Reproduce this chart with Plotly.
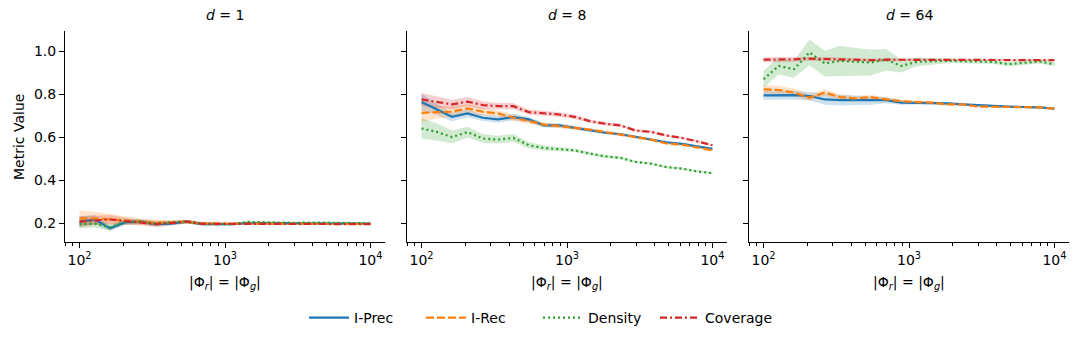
import plotly.graph_objects as go
from plotly.subplots import make_subplots

# sample sizes |Phi_r| = |Phi_g|
n_samples = [100, 127, 162, 207, 264, 336, 428, 546, 695, 886,
             1129, 1438, 1833, 2336, 2976, 3793, 4833, 6158, 7847, 10000]

# d = 1
prec_d1 = [0.206, 0.217, 0.175, 0.204, 0.206, 0.195, 0.197, 0.206, 0.195, 0.195,
           0.195, 0.200, 0.200, 0.199, 0.198, 0.199, 0.200, 0.199, 0.198, 0.197]
rec_d1 = [0.222, 0.222, 0.217, 0.213, 0.206, 0.201, 0.203, 0.205, 0.198, 0.198,
          0.197, 0.198, 0.197, 0.197, 0.196, 0.197, 0.196, 0.197, 0.196, 0.196]
dens_d1 = [0.195, 0.197, 0.180, 0.205, 0.206, 0.197, 0.203, 0.206, 0.196, 0.194,
           0.195, 0.205, 0.203, 0.202, 0.201, 0.202, 0.200, 0.201, 0.200, 0.198]
cov_d1 = [0.206, 0.213, 0.217, 0.209, 0.202, 0.195, 0.200, 0.207, 0.196, 0.196,
          0.193, 0.195, 0.195, 0.194, 0.195, 0.195, 0.196, 0.195, 0.195, 0.195]
prec_d1_err = [0.025, 0.020, 0.012, 0.012, 0.010, 0.010, 0.008, 0.008, 0.006, 0.006,
               0.005, 0.005, 0.004, 0.004, 0.004, 0.003, 0.003, 0.003, 0.003, 0.003]
rec_d1_err = [0.035, 0.030, 0.025, 0.020, 0.015, 0.015, 0.010, 0.010, 0.008, 0.008,
              0.006, 0.005, 0.005, 0.004, 0.004, 0.004, 0.003, 0.003, 0.003, 0.003]
dens_d1_err = [0.020, 0.018, 0.015, 0.012, 0.010, 0.010, 0.008, 0.008, 0.006, 0.006,
               0.005, 0.005, 0.004, 0.004, 0.004, 0.003, 0.003, 0.003, 0.003, 0.003]
cov_d1_err = [0.025, 0.022, 0.020, 0.015, 0.012, 0.015, 0.010, 0.008, 0.007, 0.006,
              0.005, 0.005, 0.004, 0.004, 0.004, 0.003, 0.003, 0.003, 0.003, 0.003]

# d = 8
prec_d8 = [0.763, 0.729, 0.694, 0.710, 0.690, 0.682, 0.693, 0.682, 0.654, 0.654,
           0.643, 0.632, 0.620, 0.613, 0.600, 0.588, 0.576, 0.568, 0.557, 0.545]
rec_d8 = [0.713, 0.716, 0.718, 0.733, 0.718, 0.710, 0.690, 0.674, 0.658, 0.651,
          0.643, 0.635, 0.623, 0.612, 0.600, 0.588, 0.570, 0.565, 0.552, 0.538]
dens_d8 = [0.640, 0.624, 0.600, 0.623, 0.593, 0.588, 0.596, 0.562, 0.549, 0.545,
           0.538, 0.523, 0.510, 0.503, 0.484, 0.476, 0.460, 0.453, 0.440, 0.432]
cov_d8 = [0.775, 0.763, 0.752, 0.765, 0.749, 0.744, 0.744, 0.716, 0.710, 0.705,
          0.694, 0.674, 0.662, 0.654, 0.630, 0.624, 0.607, 0.596, 0.580, 0.562]
prec_d8_err = [0.040, 0.025, 0.020, 0.018, 0.015, 0.015, 0.015, 0.012, 0.010, 0.010,
               0.008, 0.008, 0.007, 0.007, 0.006, 0.006, 0.005, 0.005, 0.005, 0.005]
rec_d8_err = [0.045, 0.030, 0.025, 0.020, 0.018, 0.015, 0.015, 0.012, 0.010, 0.010,
              0.008, 0.008, 0.007, 0.007, 0.006, 0.006, 0.005, 0.005, 0.005, 0.005]
dens_d8_err = [0.047, 0.040, 0.030, 0.025, 0.020, 0.018, 0.018, 0.015, 0.012, 0.010,
               0.008, 0.008, 0.007, 0.006, 0.006, 0.005, 0.005, 0.005, 0.005, 0.005]
cov_d8_err = [0.030, 0.025, 0.022, 0.022, 0.018, 0.015, 0.015, 0.012, 0.012, 0.010,
              0.010, 0.008, 0.008, 0.007, 0.007, 0.006, 0.006, 0.005, 0.005, 0.005]

# d = 64
prec_d64 = [0.794, 0.794, 0.795, 0.791, 0.775, 0.772, 0.772, 0.770, 0.772, 0.760,
            0.760, 0.760, 0.757, 0.752, 0.747, 0.745, 0.742, 0.741, 0.738, 0.732]
rec_d64 = [0.822, 0.819, 0.807, 0.783, 0.807, 0.786, 0.779, 0.786, 0.775, 0.767,
           0.763, 0.760, 0.752, 0.752, 0.742, 0.741, 0.741, 0.738, 0.738, 0.732]
dens_d64 = [0.869, 0.931, 0.916, 0.994, 0.942, 0.955, 0.950, 0.947, 0.960, 0.931,
            0.950, 0.952, 0.955, 0.953, 0.950, 0.950, 0.939, 0.947, 0.952, 0.939]
cov_d64 = [0.960, 0.960, 0.962, 0.965, 0.963, 0.962, 0.960, 0.958, 0.960, 0.960,
           0.960, 0.960, 0.960, 0.960, 0.960, 0.959, 0.958, 0.959, 0.959, 0.958]
prec_d64_err = [0.020, 0.020, 0.020, 0.020, 0.025, 0.025, 0.022, 0.020, 0.015, 0.010,
                0.008, 0.007, 0.006, 0.005, 0.005, 0.004, 0.004, 0.004, 0.004, 0.004]
rec_d64_err = [0.020, 0.020, 0.018, 0.015, 0.015, 0.012, 0.012, 0.010, 0.010, 0.008,
               0.007, 0.006, 0.006, 0.005, 0.005, 0.004, 0.004, 0.004, 0.004, 0.004]
dens_d64_err = [0.040, 0.040, 0.040, 0.060, 0.060, 0.070, 0.065, 0.060, 0.050, 0.030,
                0.020, 0.015, 0.012, 0.010, 0.010, 0.010, 0.010, 0.010, 0.010, 0.010]
cov_d64_err = [0.012, 0.012, 0.010, 0.010, 0.010, 0.008, 0.008, 0.007, 0.007, 0.006,
               0.006, 0.005, 0.005, 0.005, 0.005, 0.004, 0.004, 0.004, 0.004, 0.004]

panel_titles = ["<i>d</i> = 1", "<i>d</i> = 8", "<i>d</i> = 64"]
metric_names = ["I-Prec", "I-Rec", "Density", "Coverage"]
colors = ["#1f77b4", "#ff7f0e", "#2ca02c", "#d62728"]
fills = ["rgba(31,119,180,0.22)", "rgba(255,127,14,0.22)",
         "rgba(44,160,44,0.22)", "rgba(214,39,40,0.22)"]
dashes = ["solid", "8px,3px", "2px,3px", "7px,3px,2px,3px"]

panels = [
    [(prec_d1, prec_d1_err), (rec_d1, rec_d1_err), (dens_d1, dens_d1_err), (cov_d1, cov_d1_err)],
    [(prec_d8, prec_d8_err), (rec_d8, rec_d8_err), (dens_d8, dens_d8_err), (cov_d8, cov_d8_err)],
    [(prec_d64, prec_d64_err), (rec_d64, rec_d64_err), (dens_d64, dens_d64_err), (cov_d64, cov_d64_err)],
]

fig = make_subplots(rows=1, cols=3, shared_yaxes=True)

for p, series in enumerate(panels):
    col = p + 1
    # shaded bands first
    for k, (mean, err) in enumerate(series):
        upper = [m + e for m, e in zip(mean, err)]
        lower = [m - e for m, e in zip(mean, err)]
        fig.add_trace(go.Scatter(x=n_samples, y=upper, mode="lines", line=dict(width=0),
                                 showlegend=False, hoverinfo="skip"), row=1, col=col)
        fig.add_trace(go.Scatter(x=n_samples, y=lower, mode="lines", line=dict(width=0),
                                 fill="tonexty", fillcolor=fills[k],
                                 showlegend=False, hoverinfo="skip"), row=1, col=col)
    for k, (mean, err) in enumerate(series):
        fig.add_trace(go.Scatter(x=n_samples, y=mean, mode="lines", name=metric_names[k],
                                 line=dict(color=colors[k], width=2.2, dash=dashes[k]),
                                 legendgroup=metric_names[k], showlegend=(p == 0)),
                      row=1, col=col)

# page body adds an 8px offset, so the figure is drawn 8px smaller
OFF = 8
W, H = 1079 - OFF, 344 - OFF
FS = 14
domains = [(65, 385), (407, 727), (749, 1069)]
minor_vals = [80, 90] + [v * m for v in (100, 1000) for m in range(2, 10)]


def px_x(v):
    return (v - OFF) / W


def px_y(v):
    return 1 - (v - OFF) / H


for i, (a, b) in enumerate(domains):
    ax = "xaxis" if i == 0 else f"xaxis{i + 1}"
    fig.layout[ax].update(
        type="log", domain=[px_x(a), px_x(b)], range=[1.9, 4.1], automargin=False,
        tickvals=[100, 1000, 10000],
        ticktext=["10<sup>2</sup>", "10<sup>3</sup>", "10<sup>4</sup>"],
        ticks="outside", ticklen=5, tickwidth=1, tickcolor="black",
        minor=dict(tickvals=minor_vals, ticks="outside", ticklen=3, tickcolor="black", showgrid=False),
        showline=True, linecolor="black", linewidth=1, showgrid=False, zeroline=False,
        tickfont=dict(size=FS),
    )
    ay = "yaxis" if i == 0 else f"yaxis{i + 1}"
    fig.layout[ay].update(
        domain=[px_y(241.7), px_y(30.7)], range=[0.113, 1.095], automargin=False,
        tickvals=[0.2, 0.4, 0.6, 0.8, 1.0], ticks="outside", ticklen=5, tickwidth=1,
        tickcolor="black", tickformat=".1f",
        showline=True, linecolor="black", linewidth=1, showgrid=False, zeroline=False,
        tickfont=dict(size=FS),
    )
    fig.add_annotation(text=panel_titles[i], x=px_x((a + b) / 2), y=px_y(15),
                       xref="paper", yref="paper", showarrow=False,
                       font=dict(size=FS), xanchor="center", yanchor="middle")
    fig.add_annotation(text="|Φ<sub><i>r</i></sub>| = |Φ<sub><i>g</i></sub>|",
                       x=px_x((a + b) / 2), y=px_y(283),
                       xref="paper", yref="paper", showarrow=False,
                       font=dict(size=FS), xanchor="center", yanchor="middle")

fig.add_annotation(text="Metric Value", x=px_x(19), y=px_y(137), textangle=-90,
                   xref="paper", yref="paper", showarrow=False,
                   font=dict(size=FS), xanchor="center", yanchor="middle")

fig.update_layout(
    width=W, height=H,
    margin=dict(l=0, r=0, t=0, b=0),
    plot_bgcolor="white", paper_bgcolor="white",
    font=dict(family="DejaVu Sans", color="black", size=FS),
    legend=dict(orientation="h", x=px_x(538), xanchor="center", y=px_y(318), yanchor="middle",
                font=dict(size=FS), itemwidth=40, entrywidth=62),
)

fig.write_html("out.html")
